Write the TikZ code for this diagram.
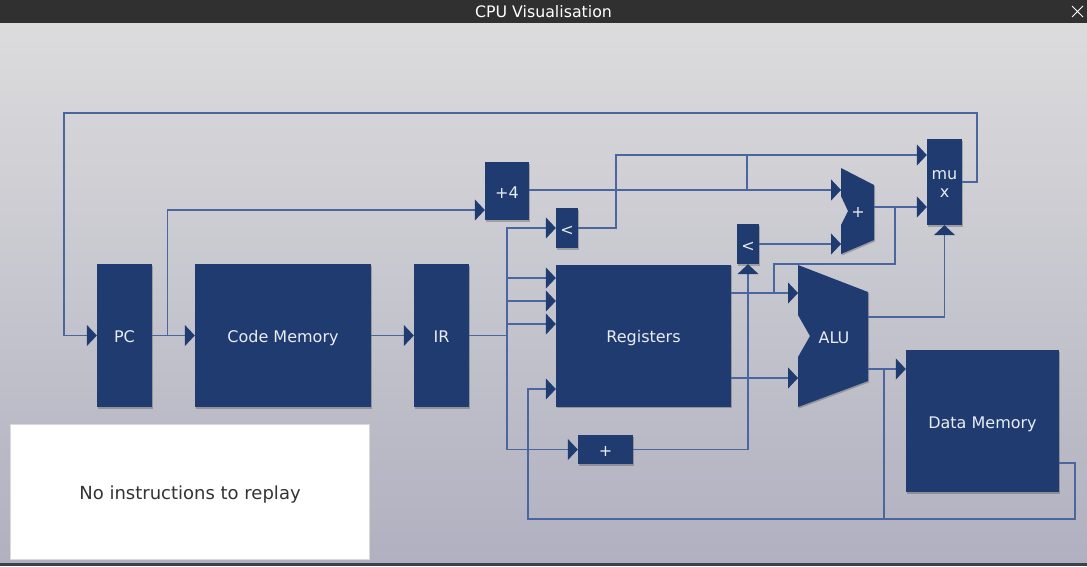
\documentclass[tikz,border=0pt]{standalone}
\usepackage{fontspec}
\setmainfont{DejaVu Sans}
\usetikzlibrary{arrows.meta,shadows}
\definecolor{boxblue}{RGB}{31,59,112}
\definecolor{wireblue}{RGB}{74,102,160}
\definecolor{labelc}{RGB}{232,236,244}
\definecolor{bgtop}{RGB}{220,220,221}
\definecolor{bgbot}{RGB}{176,176,192}
\definecolor{titlebar}{RGB}{48,48,48}
\definecolor{msgtext}{RGB}{51,51,51}
\definecolor{frameb}{RGB}{62,62,78}
\begin{document}
\begin{tikzpicture}[x=1pt,y=-1pt,
  shd/.style={drop shadow={shadow xshift=1pt,shadow yshift=-1.5pt,opacity=0.22,fill=black}},
  blk/.style={fill=boxblue, draw=none, text=labelc, font=\fontsize{16}{19}\selectfont, inner sep=0pt, align=center, text height=14pt, text depth=0pt, shd},
  lbl/.style={text=labelc, font=\fontsize{16}{19}\selectfont, inner sep=0pt, text height=14pt, text depth=0pt},
  wire/.style={draw=wireblue, line width=1.2pt},
  tip/.style={-{Triangle[length=10pt,width=21pt,color=boxblue]}}
]
\useasboundingbox (0,0) rectangle (1087,566);
% window
\shade[top color=bgtop, bottom color=bgbot] (0,23) rectangle (1087,563);
\fill[titlebar] (0,0) rectangle (1087,23);
\fill[frameb] (0,563) rectangle (1087,566);
\node[text=white, font=\fontsize{15.8}{18}\selectfont, inner sep=0pt] (title) at (543.5,11.5) {CPU Visualisation};
\draw[white, line width=1pt] (1072,6) -- (1083,17) (1072,17) -- (1083,6);

% connector end points on the polygon-shaped units
\coordinate (addA) at (841,190);
\coordinate (addB) at (841,244);
\coordinate (addO) at (874,207);
\coordinate (aluA) at (798,293);
\coordinate (aluB) at (798,378);
\coordinate (aluO1) at (868,317);
\coordinate (aluO2) at (868,369);

% blocks
\node[blk, minimum width=55pt, minimum height=143pt] (pc) at (124.5,335.5) {PC};
\node[blk, minimum width=176pt, minimum height=143pt] (cm) at (283,335.5) {Code Memory};
\node[blk, minimum width=55pt, minimum height=143pt] (ir) at (441.5,335.5) {IR};
\node[blk, minimum width=175pt, minimum height=142pt] (reg) at (643.5,335.5) {Registers};
\node[blk, minimum width=44pt, minimum height=58pt] (p4) at (507,191) {+4};
\node[blk, minimum width=22pt, minimum height=40pt] (ltl) at (567,228) {<};
\node[blk, minimum width=22pt, minimum height=40pt] (ltr) at (748,244) {<};
\node[blk, minimum width=55pt, minimum height=29pt] (addb) at (605.5,449.5) {+};
\node[blk, minimum width=153pt, minimum height=142pt] (dm) at (982.5,421) {Data Memory};
\node[blk, minimum width=35pt, minimum height=86pt] (mux) at (944.5,182) {};
\node[lbl, align=center] (muxtxt) at (944.5,190) {mu\\[-1pt]x};
\path[fill=boxblue, shd] (841,168) -- (874,185) -- (874,240) -- (841,254) -- (841,225) -- (848,211) -- (841,196) -- cycle;
\node[lbl] (addtxt) at (858,210) {+};
\path[fill=boxblue, shd] (798,265) -- (868,292) -- (868,381) -- (798,407) -- (798,357) -- (810,336) -- (798,315) -- cycle;
\node[lbl] (alutxt) at (834,336) {ALU};

% message box
\node[fill=white, draw=black!15, line width=0.6pt, minimum width=359pt, minimum height=135pt, text=msgtext, font=\fontsize{18}{21}\selectfont, text height=15pt, text depth=0pt] (msg) at (190,491.5) {No instructions to replay};

% connectors
\draw[wire,tip] (mux.east) -- (977,182) |- (64,113) |- (pc.west);
\draw[wire,tip] (pc.east) -- (cm.west);
\draw[wire,tip] (167.5,335.5) |- (p4.west |- 0,210);
\draw[wire,tip] (cm.east) -- (ir.west);
\draw[wire,tip] (ir.east) -- (507,335.5) |- (ltl.west);
\draw[wire,tip] (507,335.5) |- (addb.west);
\draw[wire,tip] (507,278) -- (reg.west |- 0,278);
\draw[wire,tip] (507,301) -- (reg.west |- 0,301);
\draw[wire,tip] (507,324) -- (reg.west |- 0,324);
\draw[wire,tip] (ltl.east) -| (616,155) -- (mux.west |- 0,155);
\draw[wire,tip] (p4.east |- 0,190) -- (addA);
\draw[wire] (747,190) -- (747,155);
\draw[wire,tip] (ltr.east) -- (addB);
\draw[wire,tip] (addO) -- (mux.west |- addO);
\draw[wire] (895,207) |- (774,264) -- (774,293);
\draw[wire,tip] (reg.east |- aluA) -- (aluA);
\draw[wire,tip] (reg.east |- aluB) -- (aluB);
\draw[wire,tip] (aluO1) -| (mux.south);
\draw[wire,tip] (aluO2) -- (dm.west |- aluO2);
\draw[wire] (884,369) -- (884,519);
\draw[wire,tip] (dm.east |- 0,463) -| (1075,519) -| (528,389) -- (reg.west |- 0,389);
\draw[wire,tip] (addb.east) -| (ltr.south);
\end{tikzpicture}
\end{document}
